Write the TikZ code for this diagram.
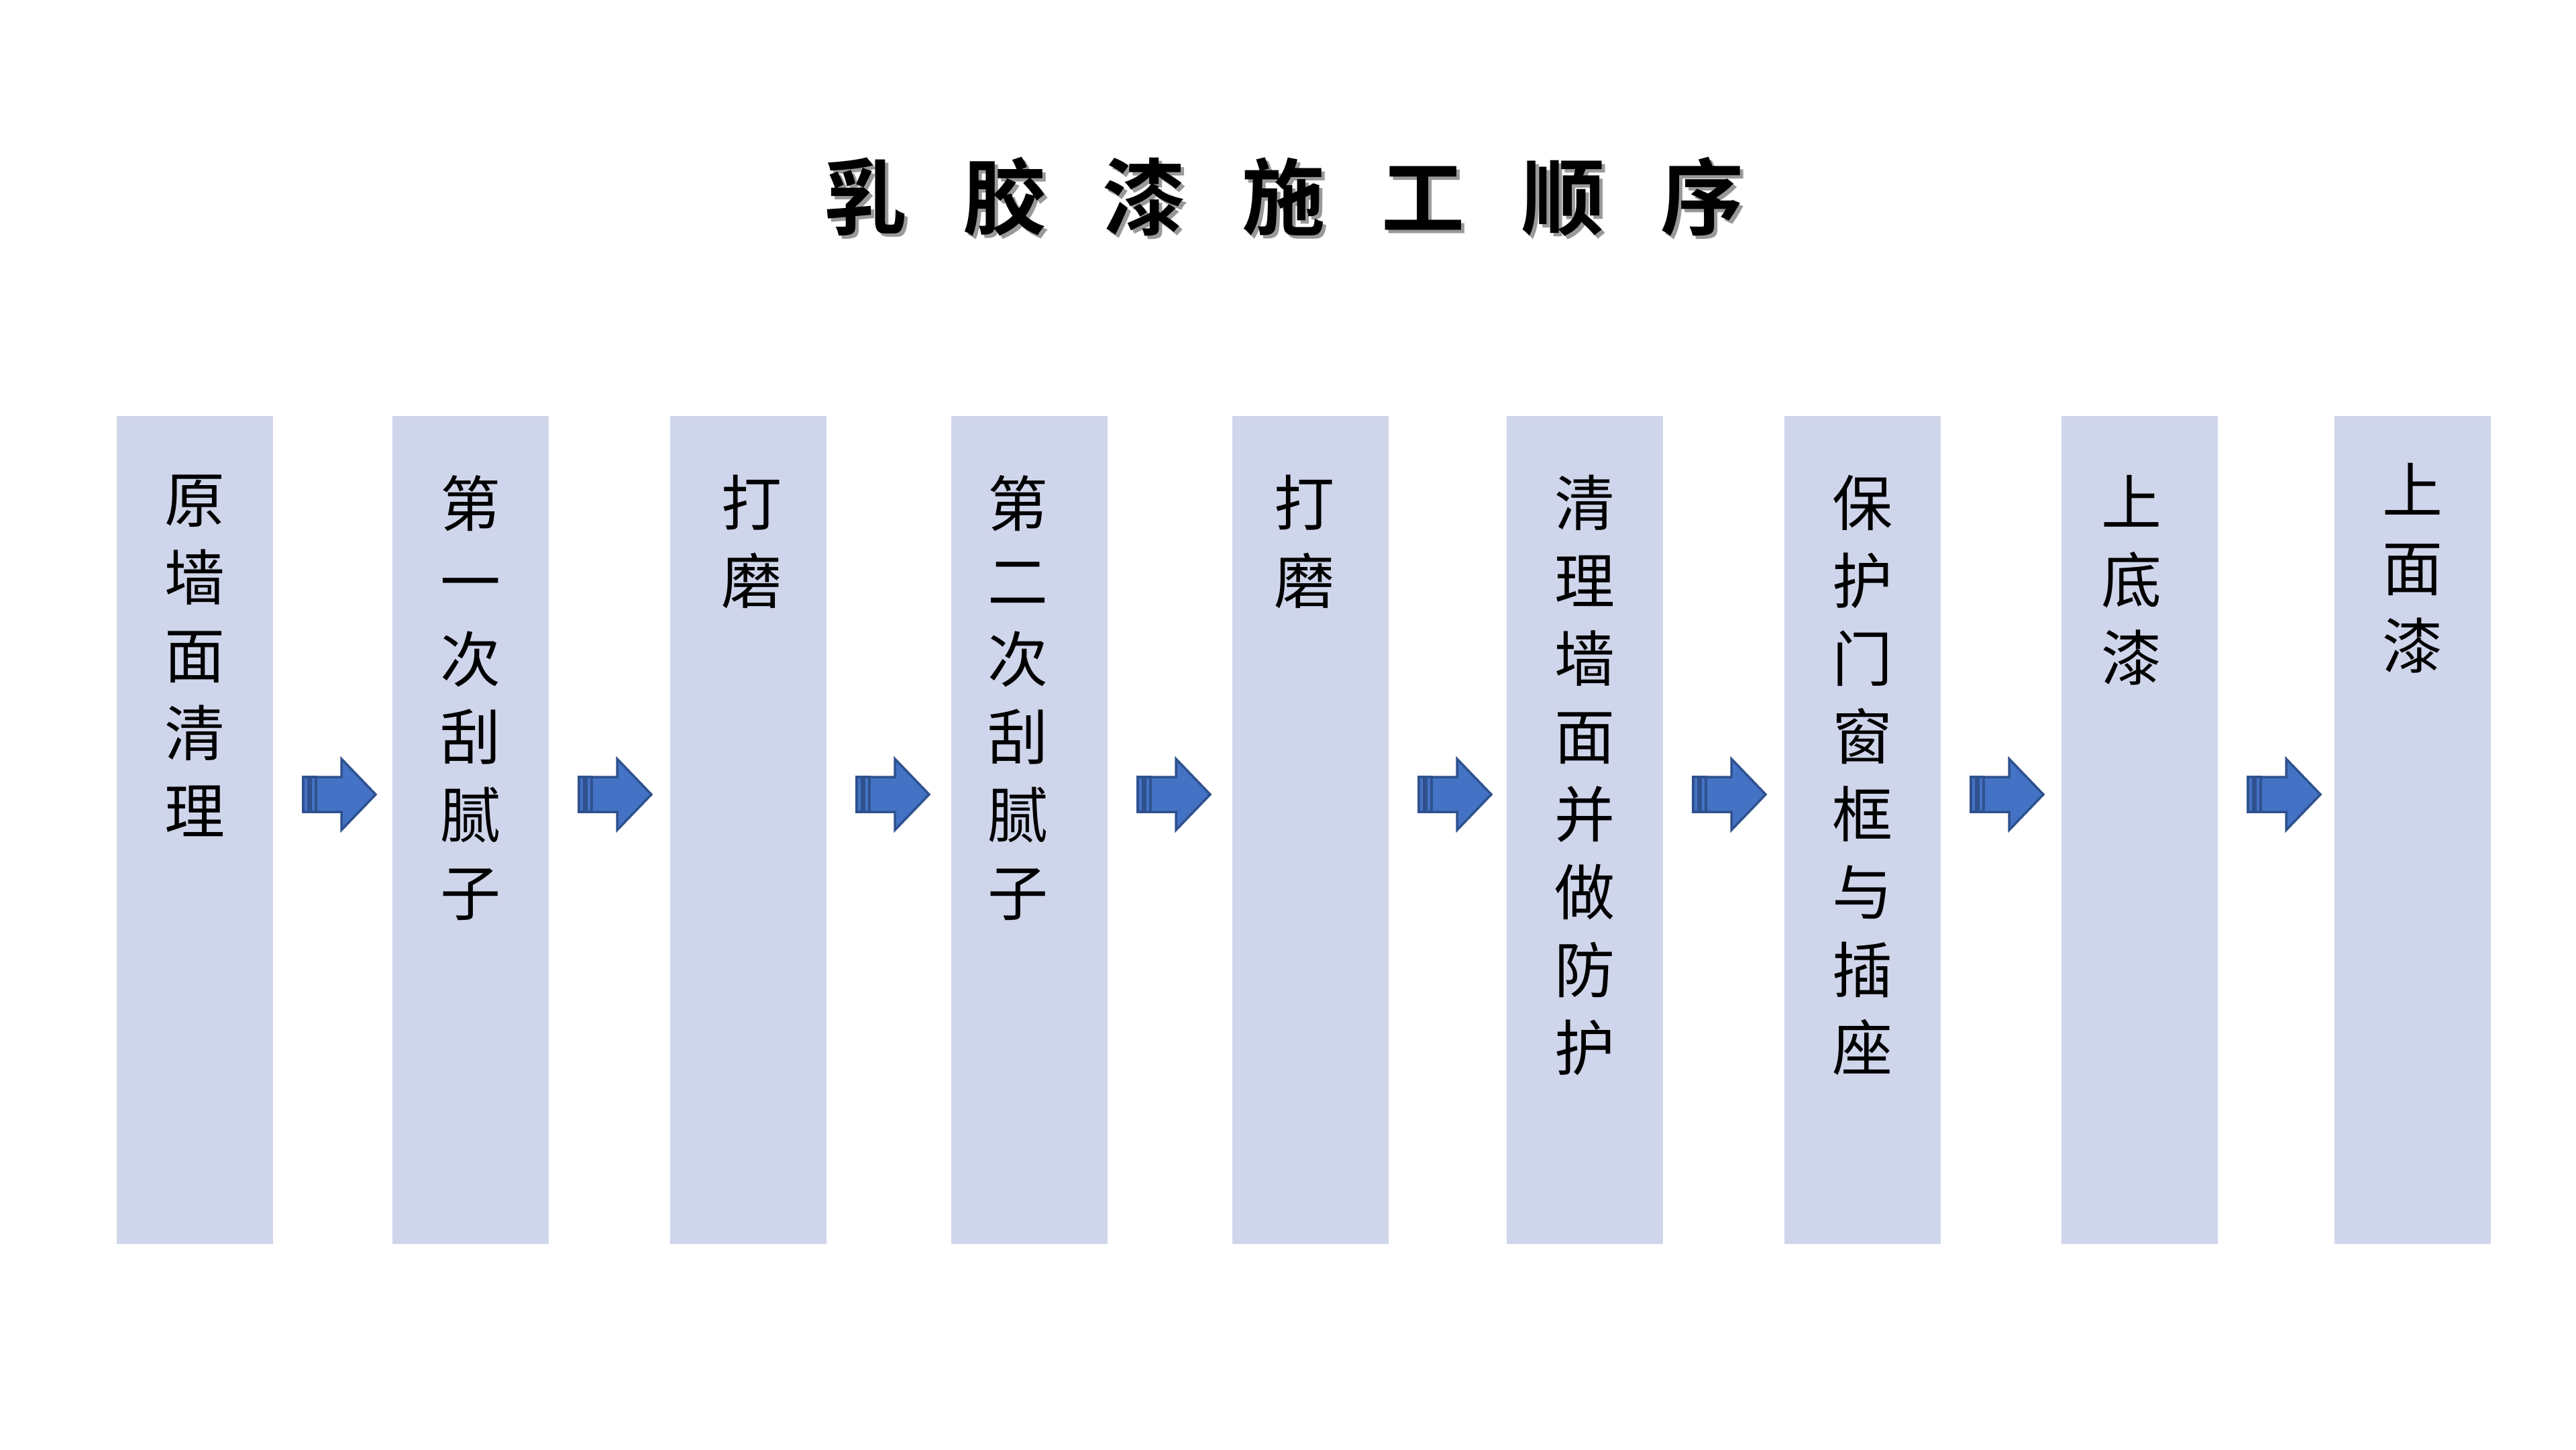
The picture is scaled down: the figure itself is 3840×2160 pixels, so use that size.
\documentclass[tikz,border=0pt]{standalone}
\usepackage{fontspec}
\newfontfamily\songfont{Noto Sans CJK SC}
\newfontfamily\songbold{Noto Sans CJK SC Bold}
\usetikzlibrary{calc}
\definecolor{boxfill}{HTML}{CFD5EA}
\definecolor{arrfill}{HTML}{4472C4}
\definecolor{arrline}{HTML}{2F528F}
\newcommand\titletext{乳\hspace{84pt}胶\hspace{84pt}漆\hspace{84pt}施\hspace{84pt}工\hspace{84pt}顺\hspace{84pt}序}
\tikzset{
  stepbox/.style={fill=boxfill, draw=none, minimum width=233pt, minimum height=1234pt, inner sep=0pt, outer sep=0pt, anchor=north west},
  steptext/.style={anchor=north, inner sep=0pt, align=center, font=\songfont\fontsize{90}{116}\selectfont},
  titlefont/.style={inner sep=0pt, font=\songbold\fontsize{124}{150}\selectfont},
  arrowpart/.style={fill=arrfill, draw=arrline, line width=3.5pt, line join=miter},
  pics/striparrow/.style={code={
    \draw[arrowpart] (0,-26) rectangle (8,26);
    \draw[arrowpart] (11,-26) rectangle (19,26);
    \draw[arrowpart] (19,-26) -- (57,-26) -- (57,-53) -- (108,0) -- (57,53) -- (57,26) -- (19,26) -- cycle;
  }}
}
\begin{document}
\begin{tikzpicture}[x=1pt,y=-1pt]
  \path[fill=white,use as bounding box] (0,0) rectangle (3840,2160);
  % title with shadow
  \node[titlefont, text=black!40] (titleshadow) at (1919,298) {\titletext};
  \node[titlefont, text=black] (title) at (1914,293) {\titletext};
  % boxes
  \node[stepbox] (b1) at (174,620) {};
  \node[stepbox] (b2) at (585,620) {};
  \node[stepbox] (b3) at (999,620) {};
  \node[stepbox] (b4) at (1418,620) {};
  \node[stepbox] (b5) at (1837,620) {};
  \node[stepbox] (b6) at (2246,620) {};
  \node[stepbox] (b7) at (2660,620) {};
  \node[stepbox] (b8) at (3073,620) {};
  \node[stepbox] (b9) at (3480,620) {};
  % texts
  \node[steptext] (t1) at ($(b1.north)+(0,88)$) {原\\墙\\面\\清\\理};
  \node[steptext] (t2) at ($(b2.north)+(0,88)$) {第\\一\\次\\刮\\腻\\子};
  \node[steptext] (t3) at ($(b3.north)+(5,88)$) {打\\磨};
  \node[steptext] (t4) at ($(b4.north)+(-17,88)$) {第\\二\\次\\刮\\腻\\子};
  \node[steptext] (t5) at ($(b5.north)+(-9,88)$) {打\\磨};
  \node[steptext] (t6) at ($(b6.north)+(0,88)$) {清\\理\\墙\\面\\并\\做\\防\\护};
  \node[steptext] (t7) at ($(b7.north)+(0,88)$) {保\\护\\门\\窗\\框\\与\\插\\座};
  \node[steptext] (t8) at ($(b8.north)+(-12,88)$) {上\\底\\漆};
  \node[steptext] (t9) at ($(b9.north)+(0,70)$) {上\\面\\漆};
  % arrows
  \foreach \i in {1,...,8}{
    \path ($(b\i.north east)+(45,564)$) pic {striparrow};
  }
\end{tikzpicture}
\end{document}
